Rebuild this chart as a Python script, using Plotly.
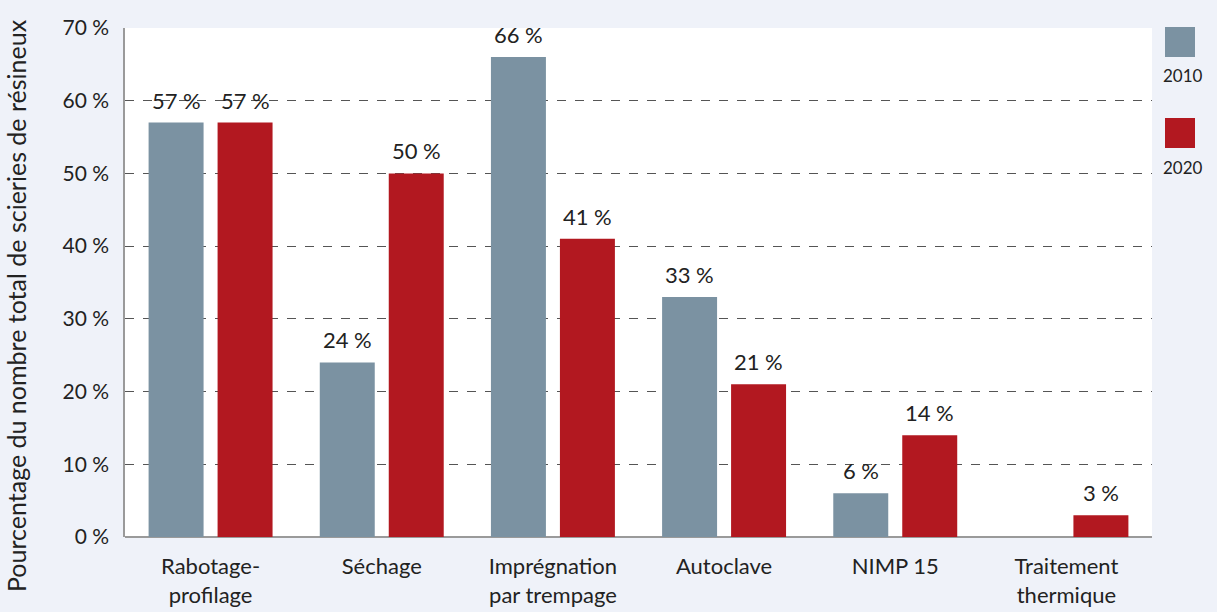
import plotly.graph_objects as go

categories = ["Rabotage-<br>profilage", "Séchage", "Imprégnation<br>par trempage",
              "Autoclave", "NIMP 15", "Traitement<br>thermique"]
series_2010 = [57, 24, 66, 33, 6, None]
series_2020 = [57, 50, 41, 21, 14, 3]
series_names = ["2010", "2020"]
y_ticks = [0, 10, 20, 30, 40, 50, 60, 70]
y_tick_labels = [f"{v}\u202f%" for v in y_ticks]

C2010 = "#7b92a2"
C2020 = "#b21820"
FONT = "Lato"

fig = go.Figure()
fig.add_trace(go.Bar(x=categories, y=series_2010, name=series_names[0],
                     marker=dict(color=C2010, line=dict(width=0))))
fig.add_trace(go.Bar(x=categories, y=series_2020, name=series_names[1],
                     marker=dict(color=C2020, line=dict(width=0))))

# value labels
annotations = []
for idx, (vals, off) in enumerate([(series_2010, -0.5), (series_2020, 0.5)]):
    for i, v in enumerate(vals):
        if v is None:
            continue
        annotations.append(dict(
            x=i, y=v, xref="x", yref="y", text=f"{v}\u202f%",
            showarrow=False, yanchor="bottom", yshift=7,
            xshift=off * 69,
            font=dict(family=FONT, size=22, color="#222222")))

# y-axis title
annotations.append(dict(
    x=-125 / 1027 + 16 / 1027, y=(537 - 306) / 509, xref="paper", yref="paper",
    text="Pourcentage du nombre total de scieries de résineux", textangle=-90,
    showarrow=False, xanchor="center", yanchor="middle",
    font=dict(family=FONT, size=25, color="#222222")))

# legend (symbol above label)
shapes = []
leg_colors = [C2010, C2020]
leg_tops = [27, 118]
leg_text = [75, 168]
for name, col, top, ty in zip(series_names, leg_colors, leg_tops, leg_text):
    shapes.append(dict(type="rect", xref="paper", yref="paper",
                       x0=(1165 - 125) / 1027, x1=(1195 - 125) / 1027,
                       y0=(537 - top) / 509, y1=(537 - top - 30) / 509,
                       fillcolor=col, line=dict(width=0)))
    annotations.append(dict(x=(1183 - 125) / 1027, y=(537 - ty) / 509,
                            xref="paper", yref="paper", text=name, showarrow=False,
                            xanchor="center", yanchor="middle",
                            font=dict(family=FONT, size=17, color="#222222")))

fig.update_layout(
    width=1217, height=612,
    margin=dict(l=125, r=65, t=28, b=75, autoexpand=False),
    paper_bgcolor="#eff2f9",
    plot_bgcolor="#ffffff",
    barmode="group",
    bargap=0.194,
    bargroupgap=0.203,
    showlegend=False,
    annotations=annotations,
    shapes=shapes,
    font=dict(family=FONT, color="#222222"),
)
fig.update_xaxes(
    showgrid=False, showline=False, zeroline=False,
    ticks="outside", ticklen=10, tickcolor="rgba(0,0,0,0)",
    tickfont=dict(family=FONT, size=22, color="#222222"),
    tickangle=0,
)
fig.update_yaxes(
    range=[0, 70], tickvals=y_ticks, ticktext=y_tick_labels,
    showgrid=True, gridcolor="#555555", griddash="dash", gridwidth=1,
    showline=True, linecolor="#9a9a9a", linewidth=1.5,
    zeroline=True, zerolinecolor="#9a9a9a", zerolinewidth=2,
    ticks="outside", ticklen=10, tickcolor="rgba(0,0,0,0)",
    tickfont=dict(family=FONT, size=21, color="#222222"),
)

fig.write_html("out.html", config={"displayModeBar": False},
               post_script="document.body.style.margin='0';document.body.style.overflow='hidden';")
